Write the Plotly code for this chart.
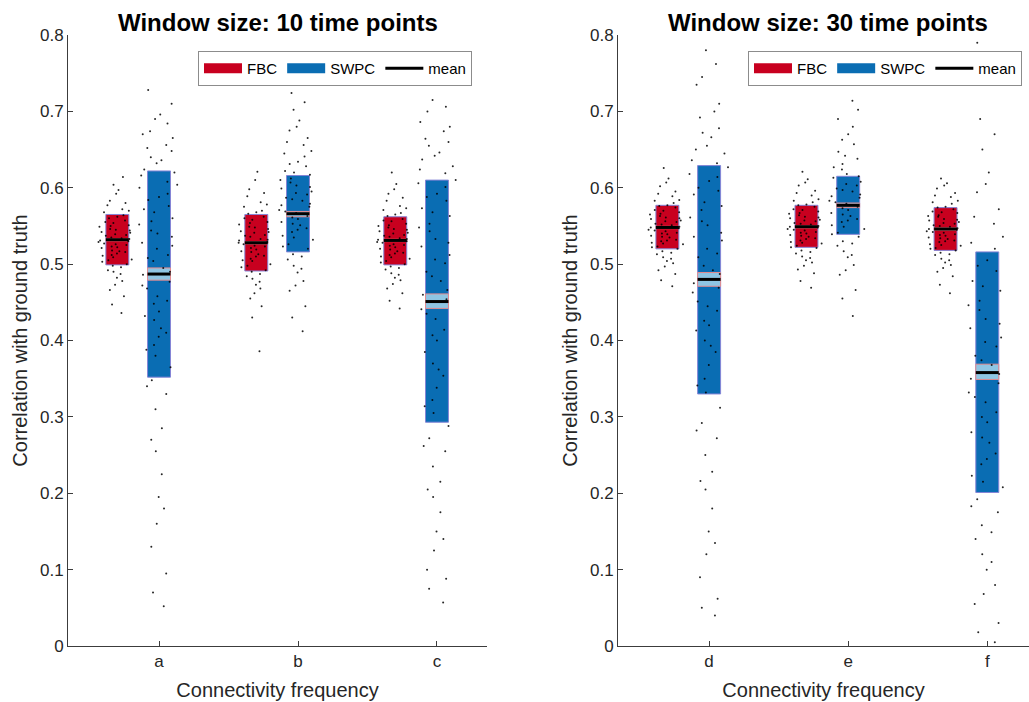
import plotly.graph_objects as go

# ---------------- data ----------------
categories_left = ["a", "b", "c"]
categories_right = ["d", "e", "f"]
cat_index = [1, 2, 3]
series_names = ["FBC", "SWPC"]

# FBC: mean and +/- 1 SD box edges, 95% CI edges
fbc_mean_left = [0.532, 0.528, 0.531]
fbc_lo_left = [0.499, 0.491, 0.499]
fbc_hi_left = [0.565, 0.565, 0.562]
fbc_ci_lo_left = [0.5305, 0.5265, 0.5295]
fbc_ci_hi_left = [0.5335, 0.5295, 0.5325]

swpc_mean_left = [0.487, 0.566, 0.451]
swpc_lo_left = [0.352, 0.516, 0.293]
swpc_hi_left = [0.622, 0.616, 0.610]
swpc_ci_lo_left = [0.479, 0.562, 0.442]
swpc_ci_hi_left = [0.495, 0.569, 0.461]

fbc_mean_right = [0.548, 0.549, 0.546]
fbc_lo_right = [0.520, 0.522, 0.518]
fbc_hi_right = [0.577, 0.577, 0.574]
fbc_ci_lo_right = [0.5465, 0.5475, 0.5445]
fbc_ci_hi_right = [0.5495, 0.5505, 0.5475]

swpc_mean_right = [0.480, 0.577, 0.358]
swpc_lo_right = [0.330, 0.539, 0.201]
swpc_hi_right = [0.629, 0.615, 0.516]
swpc_ci_lo_right = [0.471, 0.574, 0.349]
swpc_ci_hi_right = [0.489, 0.580, 0.369]

# raw samples (estimated spread of the dot clouds)
fbc_pts_a = [0.436, 0.458, 0.473, 0.482, 0.487, 0.492, 0.496, 0.500, 0.503, 0.506, 0.509, 0.511, 0.514, 0.516,
             0.518, 0.521, 0.523, 0.525, 0.527, 0.529, 0.531, 0.533, 0.535, 0.537, 0.539, 0.542, 0.544, 0.546,
             0.549, 0.551, 0.554, 0.557, 0.560, 0.564, 0.568, 0.572, 0.577, 0.583, 0.592, 0.604, 0.614,
             0.447, 0.466, 0.478, 0.490, 0.498, 0.505, 0.512, 0.517, 0.522, 0.526, 0.530, 0.534, 0.538, 0.541,
             0.545, 0.550, 0.555, 0.562, 0.570, 0.580, 0.597]
fbc_pts_b = [0.386, 0.445, 0.462, 0.473, 0.481, 0.487, 0.492, 0.496, 0.500, 0.504, 0.507, 0.510, 0.513, 0.516,
             0.519, 0.521, 0.524, 0.526, 0.529, 0.531, 0.533, 0.536, 0.538, 0.541, 0.543, 0.546, 0.549, 0.552,
             0.555, 0.558, 0.562, 0.566, 0.570, 0.575, 0.581, 0.589, 0.598, 0.610, 0.621,
             0.430, 0.455, 0.468, 0.477, 0.484, 0.490, 0.498, 0.505, 0.511, 0.517, 0.523, 0.528, 0.532, 0.537,
             0.542, 0.548, 0.554, 0.560, 0.568, 0.578, 0.593]
fbc_pts_c = [0.442, 0.462, 0.474, 0.482, 0.488, 0.493, 0.497, 0.500, 0.504, 0.507, 0.510, 0.512, 0.515, 0.517,
             0.519, 0.522, 0.524, 0.526, 0.528, 0.530, 0.532, 0.534, 0.536, 0.538, 0.540, 0.543, 0.545, 0.548,
             0.550, 0.553, 0.556, 0.559, 0.563, 0.567, 0.571, 0.576, 0.583, 0.592, 0.605, 0.620,
             0.452, 0.468, 0.479, 0.486, 0.495, 0.502, 0.509, 0.514, 0.520, 0.525, 0.529, 0.533, 0.537, 0.541,
             0.546, 0.551, 0.557, 0.565, 0.573, 0.587, 0.598]
fbc_pts_d = [0.471, 0.487, 0.497, 0.504, 0.509, 0.513, 0.517, 0.520, 0.523, 0.526, 0.528, 0.530, 0.532, 0.535,
             0.537, 0.539, 0.541, 0.543, 0.545, 0.547, 0.549, 0.551, 0.553, 0.555, 0.557, 0.559, 0.561, 0.563,
             0.566, 0.568, 0.571, 0.574, 0.577, 0.580, 0.584, 0.589, 0.595, 0.602, 0.612, 0.626,
             0.479, 0.492, 0.501, 0.507, 0.515, 0.522, 0.527, 0.531, 0.536, 0.540, 0.544, 0.548, 0.552, 0.556,
             0.560, 0.565, 0.570, 0.576, 0.583, 0.592, 0.607]
fbc_pts_e = [0.469, 0.488, 0.498, 0.505, 0.510, 0.514, 0.518, 0.521, 0.524, 0.527, 0.529, 0.531, 0.534, 0.536,
             0.538, 0.540, 0.542, 0.544, 0.546, 0.548, 0.550, 0.552, 0.554, 0.556, 0.558, 0.560, 0.562, 0.564,
             0.567, 0.569, 0.572, 0.575, 0.578, 0.581, 0.585, 0.590, 0.596, 0.603, 0.611, 0.621,
             0.478, 0.493, 0.502, 0.508, 0.516, 0.522, 0.528, 0.533, 0.537, 0.541, 0.545, 0.549, 0.553, 0.557,
             0.561, 0.566, 0.571, 0.577, 0.583, 0.593, 0.607]
fbc_pts_f = [0.462, 0.484, 0.495, 0.502, 0.507, 0.512, 0.515, 0.518, 0.521, 0.524, 0.526, 0.529, 0.531, 0.533,
             0.535, 0.537, 0.539, 0.541, 0.543, 0.545, 0.547, 0.549, 0.551, 0.553, 0.555, 0.557, 0.559, 0.562,
             0.564, 0.567, 0.569, 0.572, 0.575, 0.579, 0.583, 0.588, 0.593, 0.599, 0.606, 0.612,
             0.473, 0.490, 0.499, 0.505, 0.513, 0.520, 0.525, 0.530, 0.534, 0.538, 0.542, 0.546, 0.550, 0.554,
             0.558, 0.563, 0.568, 0.574, 0.581, 0.590, 0.603]

swpc_pts_a = [0.052, 0.095, 0.130, 0.160, 0.195, 0.225, 0.255, 0.285, 0.310, 0.330, 0.348, 0.365, 0.380, 0.394,
              0.405, 0.416, 0.427, 0.438, 0.448, 0.458, 0.468, 0.477, 0.486, 0.495, 0.504, 0.512, 0.520, 0.528,
              0.536, 0.544, 0.552, 0.560, 0.568, 0.576, 0.584, 0.592, 0.600, 0.608, 0.616, 0.624, 0.632, 0.640,
              0.648, 0.656, 0.665, 0.674, 0.684, 0.696, 0.710, 0.728,
              0.070, 0.180, 0.270, 0.340, 0.388, 0.410, 0.432, 0.452, 0.472, 0.490, 0.508, 0.524, 0.540, 0.556,
              0.572, 0.588, 0.604, 0.620, 0.636, 0.652, 0.670, 0.690]
swpc_pts_b = [0.412, 0.445, 0.465, 0.478, 0.489, 0.498, 0.506, 0.513, 0.520, 0.526, 0.532, 0.537, 0.542, 0.547,
              0.551, 0.555, 0.559, 0.563, 0.567, 0.571, 0.575, 0.579, 0.583, 0.587, 0.591, 0.595, 0.599, 0.603,
              0.607, 0.612, 0.617, 0.622, 0.628, 0.634, 0.641, 0.648, 0.656, 0.665, 0.675, 0.688, 0.702, 0.724,
              0.430, 0.472, 0.494, 0.510, 0.523, 0.535, 0.545, 0.553, 0.561, 0.569, 0.577, 0.585, 0.593, 0.601,
              0.610, 0.620, 0.631, 0.645, 0.660, 0.680, 0.712]
swpc_pts_c = [0.057, 0.075, 0.100, 0.125, 0.150, 0.175, 0.195, 0.215, 0.235, 0.255, 0.272, 0.288, 0.305, 0.322,
              0.338, 0.354, 0.370, 0.385, 0.400, 0.414, 0.428, 0.441, 0.454, 0.466, 0.478, 0.490, 0.501, 0.512,
              0.523, 0.533, 0.543, 0.553, 0.563, 0.573, 0.583, 0.592, 0.601, 0.610, 0.619, 0.628, 0.637, 0.646,
              0.655, 0.664, 0.674, 0.686, 0.700, 0.715,
              0.088, 0.140, 0.205, 0.262, 0.314, 0.362, 0.407, 0.435, 0.460, 0.484, 0.506, 0.528, 0.548, 0.568,
              0.588, 0.606, 0.624, 0.642, 0.660, 0.680, 0.706]
swpc_pts_d = [0.040, 0.062, 0.090, 0.120, 0.150, 0.180, 0.205, 0.228, 0.250, 0.272, 0.292, 0.312, 0.332, 0.350,
              0.368, 0.385, 0.400, 0.413, 0.426, 0.439, 0.451, 0.463, 0.475, 0.487, 0.498, 0.509, 0.520, 0.531,
              0.541, 0.551, 0.561, 0.571, 0.581, 0.591, 0.600, 0.609, 0.618, 0.627, 0.636, 0.645, 0.655, 0.666,
              0.678, 0.692, 0.710, 0.735, 0.762, 0.780,
              0.050, 0.135, 0.216, 0.282, 0.341, 0.393, 0.420, 0.445, 0.469, 0.492, 0.514, 0.536, 0.556, 0.576,
              0.596, 0.614, 0.632, 0.650, 0.672, 0.700, 0.745]
swpc_pts_e = [0.432, 0.466, 0.486, 0.499, 0.509, 0.517, 0.524, 0.530, 0.536, 0.541, 0.546, 0.551, 0.555, 0.559,
              0.563, 0.567, 0.571, 0.575, 0.579, 0.583, 0.587, 0.591, 0.595, 0.599, 0.603, 0.608, 0.613, 0.618,
              0.624, 0.631, 0.638, 0.647, 0.657, 0.670, 0.690, 0.714,
              0.455, 0.492, 0.512, 0.527, 0.539, 0.549, 0.557, 0.565, 0.573, 0.581, 0.589, 0.597, 0.605, 0.615,
              0.627, 0.642, 0.663, 0.680, 0.702]
swpc_pts_f = [0.005, 0.030, 0.055, 0.080, 0.100, 0.120, 0.140, 0.158, 0.175, 0.192, 0.208, 0.223, 0.238, 0.252,
              0.266, 0.280, 0.293, 0.306, 0.319, 0.332, 0.344, 0.356, 0.368, 0.380, 0.392, 0.404, 0.416, 0.428,
              0.440, 0.452, 0.465, 0.478, 0.491, 0.505, 0.520, 0.536, 0.553, 0.572, 0.594, 0.620, 0.650, 0.690,
              0.735, 0.790,
              0.018, 0.068, 0.110, 0.149, 0.183, 0.215, 0.245, 0.273, 0.300, 0.326, 0.350, 0.374, 0.398, 0.422,
              0.446, 0.471, 0.498, 0.528, 0.562, 0.605, 0.670, 0.760]

y_ticks = [0, 0.1, 0.2, 0.3, 0.4, 0.5, 0.6, 0.7, 0.8]
titles = ["Window size: 10 time points", "Window size: 30 time points"]

# ---------------- styling ----------------
RED = "#c8001f"
BLUE = "#0a6db3"
CI_FILL = "#8fc5e3"
CI_EDGE = "#e38b8f"
EDGE = "#8585d6"
AX = "#3c3c3c"
FONT = "Liberation Sans, Arial, sans-serif"
FBC_SHIFT = -0.3
BOX_W = 0.165
CLOUD_W = 0.29

fig = go.Figure()


def add_panel(xa, ya, legend_name, fbc, swpc, fbc_pts, swpc_pts):
    xf = [c + FBC_SHIFT for c in cat_index]
    xs = list(cat_index)
    for name, xpos, d, color in ((series_names[0], xf, fbc, RED), (series_names[1], xs, swpc, BLUE)):
        mean, lo, hi, ci_lo, ci_hi = d
        fig.add_trace(go.Bar(
            x=xpos, y=[h - l for h, l in zip(hi, lo)], base=lo, width=BOX_W,
            marker=dict(color=color, line=dict(color=EDGE, width=1)),
            name=name, showlegend=False, legendgroup=name + xa,
            legend=legend_name, xaxis=xa, yaxis=ya, hoverinfo="skip"))
        # legend swatch (wide patch like the original legend)
        fig.add_trace(go.Scatter(
            x=[None], y=[None], mode="lines", line=dict(color=color, width=10),
            name=name, legendgroup=name + xa, legend=legend_name, xaxis=xa, yaxis=ya, hoverinfo="skip"))
    for xpos, d in ((xf, fbc), (xs, swpc)):
        mean, lo, hi, ci_lo, ci_hi = d
        fig.add_trace(go.Bar(
            x=xpos, y=[h - l for h, l in zip(ci_hi, ci_lo)], base=ci_lo, width=BOX_W,
            marker=dict(color=CI_FILL, line=dict(color=CI_EDGE, width=1)),
            showlegend=False, legend=legend_name, xaxis=xa, yaxis=ya, hoverinfo="skip"))
    for xpos, groups in ((xf, fbc_pts), (xs, swpc_pts)):
        for xp, pts in zip(xpos, groups):
            fig.add_trace(go.Box(
                x=[xp] * len(pts), y=pts, width=CLOUD_W, boxpoints="all", jitter=1, pointpos=0,
                fillcolor="rgba(0,0,0,0)", line=dict(width=0, color="rgba(0,0,0,0)"),
                marker=dict(color="black", size=2, opacity=0.85),
                showlegend=False, legend=legend_name, xaxis=xa, yaxis=ya, hoverinfo="skip"))
    mx, my = [], []
    for xpos, d in ((xf, fbc), (xs, swpc)):
        for xp, m in zip(xpos, d[0]):
            mx += [xp - BOX_W / 2, xp + BOX_W / 2, None]
            my += [m, m, None]
    fig.add_trace(go.Scatter(
        x=mx, y=my, mode="lines", line=dict(color="black", width=3),
        name="mean", legend=legend_name, xaxis=xa, yaxis=ya, hoverinfo="skip"))


add_panel("x", "y", "legend",
          (fbc_mean_left, fbc_lo_left, fbc_hi_left, fbc_ci_lo_left, fbc_ci_hi_left),
          (swpc_mean_left, swpc_lo_left, swpc_hi_left, swpc_ci_lo_left, swpc_ci_hi_left),
          [fbc_pts_a, fbc_pts_b, fbc_pts_c], [swpc_pts_a, swpc_pts_b, swpc_pts_c])
add_panel("x2", "y2", "legend2",
          (fbc_mean_right, fbc_lo_right, fbc_hi_right, fbc_ci_lo_right, fbc_ci_hi_right),
          (swpc_mean_right, swpc_lo_right, swpc_hi_right, swpc_ci_lo_right, swpc_ci_hi_right),
          [fbc_pts_d, fbc_pts_e, fbc_pts_f], [swpc_pts_d, swpc_pts_e, swpc_pts_f])

W, H = 1029, 702
ydom = [1 - 646 / H, 1 - 35 / H]

common_x = dict(showline=True, linecolor=AX, linewidth=1, ticks="inside", ticklen=5, tickcolor=AX,
                showgrid=False, zeroline=False, tickvals=cat_index, automargin=False,
                tickfont=dict(family=FONT, size=17, color="#262626"),
                title=dict(text="Connectivity frequency", font=dict(family=FONT, size=20, color="#262626"),
                           standoff=12))
common_y = dict(showline=True, linecolor=AX, linewidth=1, ticks="inside", ticklen=5, tickcolor=AX,
                showgrid=False, zeroline=False, range=[0, 0.8], tickvals=y_ticks, automargin=False,
                ticktext=[("%g" % v) for v in y_ticks],
                tickfont=dict(family=FONT, size=17, color="#262626"),
                title=dict(text="Correlation with ground truth",
                           font=dict(family=FONT, size=20, color="#262626"), standoff=6), domain=ydom)

legend_common = dict(orientation="h", bgcolor="white", bordercolor="#8c8c8c", borderwidth=1,
                     font=dict(family=FONT, size=15, color="black"), xanchor="left", yanchor="top",
                     itemwidth=38, traceorder="normal", tracegroupgap=0)

fig.update_layout(
    width=W, height=H, margin=dict(l=0, r=0, t=0, b=0, autoexpand=False),
    paper_bgcolor="white", plot_bgcolor="white",
    barmode="overlay", boxmode="overlay",
    xaxis=dict(common_x, domain=[68 / W, 487 / W], range=[0.345, 3.36], ticktext=categories_left, anchor="y"),
    yaxis=dict(common_y, anchor="x"),
    xaxis2=dict(common_x, domain=[618 / W, 1.0], range=[0.345, 3.30], ticktext=categories_right, anchor="y2"),
    yaxis2=dict(common_y, anchor="x2"),
    legend=dict(legend_common, x=198 / W, y=1 - 51 / H),
    legend2=dict(legend_common, x=748 / W, y=1 - 51 / H),
    annotations=[
        dict(text="<b>%s</b>" % titles[0], x=(68 + 487) / 2 / W, y=1 - 22 / H, xref="paper", yref="paper",
             showarrow=False, font=dict(family=FONT, size=24, color="black"), xanchor="center", yanchor="middle"),
        dict(text="<b>%s</b>" % titles[1], x=(618 + 1038) / 2 / W, y=1 - 22 / H, xref="paper", yref="paper",
             showarrow=False, font=dict(family=FONT, size=24, color="black"), xanchor="center", yanchor="middle"),
    ],
)

fig.write_html("out.html")
